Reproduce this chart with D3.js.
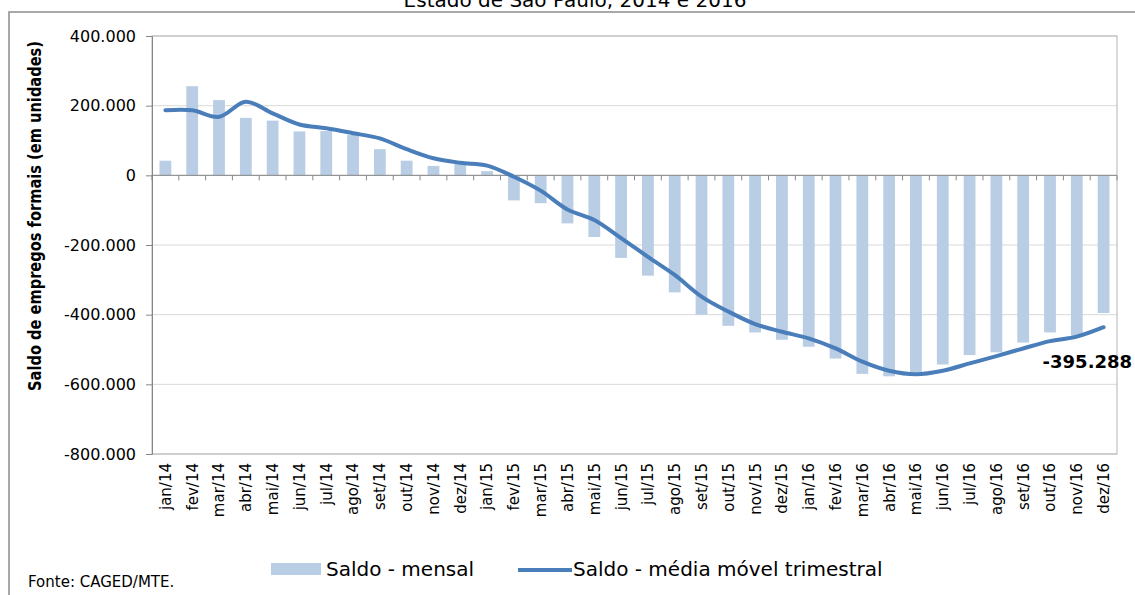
<!DOCTYPE html>
<html>
<head>
<meta charset="utf-8">
<script src="https://cdn.jsdelivr.net/npm/d3@7"></script>
<style>
  html, body { margin: 0; padding: 0; background: #fff; }
  svg { display: block; font-family: "DejaVu Sans", sans-serif; }
</style>
</head>
<body>
<svg id="chart" width="1135" height="595"></svg>
<script>
// months shown on the category axis
var months = ["jan/14","fev/14","mar/14","abr/14","mai/14","jun/14","jul/14","ago/14","set/14","out/14","nov/14","dez/14",
              "jan/15","fev/15","mar/15","abr/15","mai/15","jun/15","jul/15","ago/15","set/15","out/15","nov/15","dez/15",
              "jan/16","fev/16","mar/16","abr/16","mai/16","jun/16","jul/16","ago/16","set/16","out/16","nov/16","dez/16"];

// Saldo - mensal
var mensal = [42000, 256000, 216000, 165000, 157000, 126000, 127000, 116000, 75000, 42000, 27000, 38000,
              12000, -72000, -80000, -138000, -177000, -237000, -288000, -336000, -400000, -432000, -451000, -472000,
              -492000, -526000, -570000, -577000, -566000, -543000, -516000, -508000, -480000, -451000, -460000, -395288];

// Saldo - media movel trimestral
var media = [187000, 187000, 168000, 211000, 178000, 146000, 135000, 121000, 106000, 75000, 49000, 36000,
             28000, -4000, -44000, -98000, -128000, -180000, -234000, -286000, -348000, -391000, -427000, -449000,
             -468000, -497000, -535000, -561000, -571000, -561000, -540000, -519000, -497000, -476000, -463000, -436000];

var yTicks = [400000, 200000, 0, -200000, -400000, -600000, -800000];

var COLOR_BAR = "#b9cde5";
var COLOR_LINE = "#4a7ebb";

var svg = d3.select("#chart");
var plot = { left: 152, right: 1117, top: 36, bottom: 454 };

// pt-BR number format: 400.000 and plain hyphen minus
var br = d3.formatLocale({ decimal: ",", thousands: ".", grouping: [3], currency: ["R$", ""], minus: "-" });
var fmt = br.format(",.0f");

var x = d3.scaleBand().domain(months).range([plot.left, plot.right]).paddingInner(0.56).paddingOuter(0.28);
var y = d3.scaleLinear().domain([-800000, 400000]).range([plot.bottom, plot.top]);

// outer frame (cropped at the right / bottom of the picture)
svg.append("rect").attr("x", 9).attr("y", 12).attr("width", 1200).attr("height", 700)
   .attr("fill", "none").attr("stroke", "#8c8c8c").attr("stroke-width", 1.5);

// title, mostly cut off at the top of the picture (as in the source image)
svg.append("text").attr("x", 575).attr("y", 7).attr("text-anchor", "middle")
   .attr("font-size", 20).attr("fill", "#000").text("Estado de São Paulo, 2014 e 2016");

// gridlines
svg.append("g").selectAll("line").data(yTicks).join("line")
   .attr("x1", plot.left).attr("x2", plot.right)
   .attr("y1", d => y(d)).attr("y2", d => y(d))
   .attr("stroke", "#d9d9d9").attr("stroke-width", 1);

// plot area border
svg.append("rect").attr("x", plot.left).attr("y", plot.top)
   .attr("width", plot.right - plot.left).attr("height", plot.bottom - plot.top)
   .attr("fill", "none").attr("stroke", "#b3b3b3").attr("stroke-width", 1);

// bars
svg.append("g").selectAll("rect").data(mensal).join("rect")
   .attr("x", (d, i) => x(months[i]))
   .attr("width", x.bandwidth())
   .attr("y", d => Math.min(y(d), y(0)))
   .attr("height", d => Math.abs(y(d) - y(0)))
   .attr("fill", COLOR_BAR);

// y axis
var yAxis = svg.append("g").attr("transform", "translate(" + plot.left + ",0)")
   .call(d3.axisLeft(y).tickValues(yTicks).tickFormat(fmt).tickSize(6).tickPadding(10));
yAxis.select(".domain").attr("stroke", "#868686");
yAxis.selectAll(".tick line").attr("stroke", "#868686");
yAxis.selectAll(".tick text").attr("font-size", 16).attr("fill", "#000")
   .attr("font-family", "DejaVu Sans, sans-serif");

// category axis on the zero line, ticks between categories
var step = x.step();
var zeroY = y(0);
svg.append("line").attr("x1", plot.left).attr("x2", plot.right)
   .attr("y1", zeroY).attr("y2", zeroY).attr("stroke", "#868686").attr("stroke-width", 1);
svg.append("g").selectAll("line").data(d3.range(months.length + 1)).join("line")
   .attr("x1", i => plot.left + i * step).attr("x2", i => plot.left + i * step)
   .attr("y1", zeroY).attr("y2", zeroY + 5)
   .attr("stroke", "#868686").attr("stroke-width", 1);

// category labels below the plot, rotated
svg.append("g").selectAll("text").data(months).join("text")
   .attr("transform", d => "translate(" + (x(d) + x.bandwidth() / 2) + "," + (plot.bottom + 9) + ") rotate(-90)")
   .attr("text-anchor", "end").attr("dy", "0.36em")
   .attr("font-size", 15).attr("fill", "#000").text(d => d);

// moving average line
var line = d3.line()
   .x((d, i) => x(months[i]) + x.bandwidth() / 2)
   .y(d => y(d))
   .curve(d3.curveCatmullRom);
svg.append("path").datum(media).attr("d", line)
   .attr("fill", "none").attr("stroke", COLOR_LINE).attr("stroke-width", 4)
   .attr("stroke-linecap", "round").attr("stroke-linejoin", "round");

// data label on the last bar
var last = months.length - 1;
svg.append("text")
   .attr("x", x(months[last]) + x.bandwidth() / 2 - 61)
   .attr("y", y(mensal[last]) + 55)
   .attr("font-size", 18).attr("font-weight", "bold").attr("fill", "#000")
   .text(fmt(mensal[last]));

// y axis title
svg.append("text")
   .attr("transform", "translate(41,216) rotate(-90)")
   .attr("text-anchor", "middle")
   .attr("font-size", 17).attr("font-weight", "bold").attr("fill", "#000")
   .attr("textLength", 350).attr("lengthAdjust", "spacingAndGlyphs")
   .text("Saldo de empregos formais (em unidades)");

// legend
var legend = svg.append("g");
legend.append("rect").attr("x", 271).attr("y", 563).attr("width", 50).attr("height", 12).attr("fill", COLOR_BAR);
legend.append("text").attr("x", 326).attr("y", 576).attr("font-size", 20).attr("fill", "#000").text("Saldo - mensal");
legend.append("line").attr("x1", 518).attr("x2", 572).attr("y1", 570).attr("y2", 570)
   .attr("stroke", COLOR_LINE).attr("stroke-width", 4);
legend.append("text").attr("x", 573).attr("y", 576).attr("font-size", 20).attr("fill", "#000")
   .text("Saldo - média móvel trimestral");

// source note
svg.append("text").attr("x", 28).attr("y", 587).attr("font-size", 15).attr("fill", "#000").text("Fonte: CAGED/MTE.");
</script>
</body>
</html>
